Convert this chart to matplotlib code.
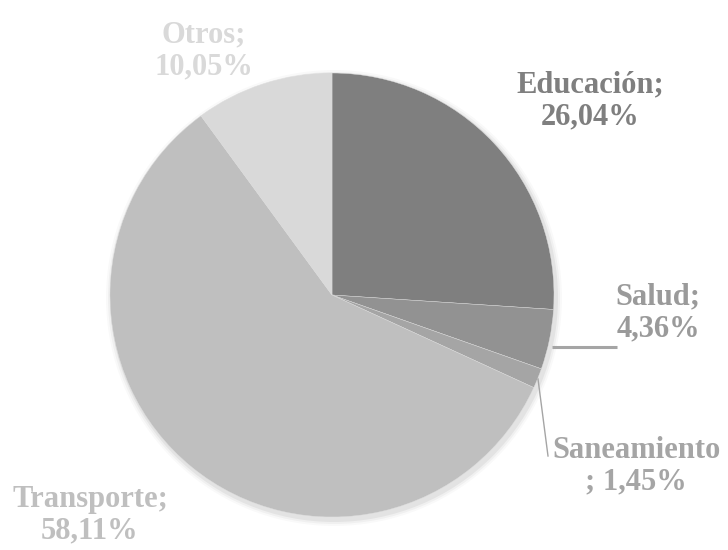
import matplotlib
matplotlib.use("Agg")
import matplotlib.pyplot as plt

categories = ["Educación", "Salud", "Saneamiento", "Transporte", "Otros"]
values = [26.04, 4.36, 1.45, 58.11, 10.05]
colors = ["#7f7f7f", "#929292", "#a5a5a5", "#bfbfbf", "#d9d9d9"]
label_colors = ["#7f7f7f", "#9a9a9a", "#a5a5a5", "#bfbfbf", "#d9d9d9"]

W, H = 728, 550
fig = plt.figure(figsize=(W / 100, H / 100), dpi=100)
ax = fig.add_axes([0, 0, 1, 1])

cx, cy, r = 332, H - 295, 222

# soft shadow
for a, dr in [(0.025, 6), (0.035, 4), (0.05, 2)]:
    ax.add_patch(plt.Circle((cx + 2, cy - 3), r + dr, color="black", alpha=a, lw=0, zorder=0))

ax.pie(values, colors=colors, startangle=90, counterclock=False,
       center=(cx, cy), radius=r, frame=True,
       wedgeprops=dict(linewidth=0.3, edgecolor="#dddddd"))
ax.set_xlim(0, W)
ax.set_ylim(0, H)
ax.set_aspect("equal")
ax.axis("off")

def fmt(v):
    return f"{v:.2f}".replace(".", ",") + "%"

label_texts = [
    f"{categories[0]};\n{fmt(values[0])}",
    f"{categories[1]};\n{fmt(values[1])}",
    f"{categories[2]}\n; {fmt(values[2])}",
    f"{categories[3]};\n{fmt(values[3])}",
    f"{categories[4]};\n{fmt(values[4])}",
]
positions = [(590, 101), (658, 313), (636, 466), (90, 515), (204, 51)]

for txt, (px, py), c in zip(label_texts, positions, label_colors):
    ax.text(px, H - py, txt, ha="center", va="center", color=c,
            fontsize=22, fontweight="bold", family="Liberation Serif",
            linespacing=1.12)

# leader lines
ax.plot([552, 617], [H - 347, H - 347], color="#a5a5a5", lw=2.2, solid_capstyle="butt")
ax.plot([538, 548], [H - 379, H - 456], color="#a5a5a5", lw=1.0)

fig.savefig("out.png", dpi=100)
